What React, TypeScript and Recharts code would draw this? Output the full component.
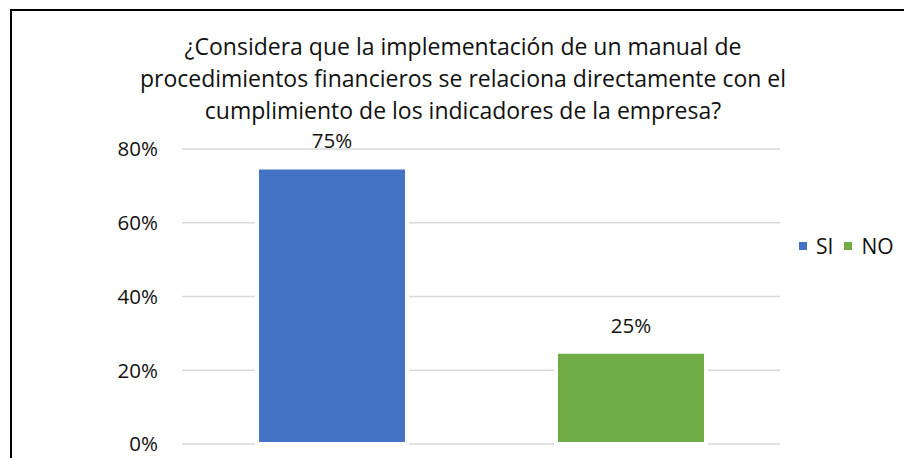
import React from 'react';
import { BarChart, Bar, XAxis, YAxis, CartesianGrid, Cell, LabelList } from 'recharts';

const categories = ['SI', 'NO'];
const values = [0.75, 0.25];
const colors = ['#4472C4', '#70AD47'];
const yTicks = [0, 0.2, 0.4, 0.6, 0.8];
const titleLines = [
  '¿Considera que la implementación de un manual de',
  'procedimientos financieros se relaciona directamente con el',
  'cumplimiento de los indicadores de la empresa?',
];

const data = categories.map((c, i) => ({ name: c, value: values[i] }));
const pct = (v: any) => `${Math.round(Number(v) * 100)}%`;

const FONT = '"Open Sans", Lato, sans-serif';
const TEXT = '#111';

export default function App() {
  return (
    <div style={{ position: 'absolute', left: 0, top: 0, width: 904, height: 458, background: '#fff', overflow: 'hidden' }}>
      <div style={{ position: 'absolute', left: 10, top: 9, width: 900, height: 460, border: '2px solid #000', boxSizing: 'border-box' }} />
      <div style={{ position: 'absolute', left: 0, top: 0 }}>
        <BarChart width={904} height={458} data={data} margin={{ top: 149, right: 124, bottom: 14, left: 0 }}>
          <CartesianGrid horizontal vertical={false} stroke="#D9D9D9" strokeWidth={1.5} />
          <XAxis dataKey="name" hide />
          <YAxis
            width={182}
            domain={[0, 0.8]}
            ticks={yTicks}
            tickFormatter={pct}
            axisLine={false}
            tickLine={false}
            tickSize={0}
            tickMargin={24}
            tick={{ fill: TEXT, fontSize: 20.5, fontFamily: FONT }}
          />
          <Bar dataKey="value" barSize={150} stroke="#fff" strokeWidth={4} isAnimationActive={false}>
            {data.map((d, i) => (
              <Cell key={d.name} fill={colors[i]} stroke="#fff" strokeWidth={4} />
            ))}
            <LabelList dataKey="value" position="top" offset={19} formatter={pct} fill={TEXT} fontSize={20.5} fontFamily={FONT} />
          </Bar>
        </BarChart>
      </div>
      <div
        style={{
          position: 'absolute',
          left: 799,
          top: 233,
          display: 'flex',
          alignItems: 'center',
          fontFamily: FONT,
          fontSize: 21,
          color: TEXT,
          lineHeight: '26px',
        }}
      >
        {categories.map((c, i) => (
          <div key={c} style={{ display: 'flex', alignItems: 'center', marginRight: 11 }}>
            <span style={{ display: 'inline-block', width: 8, height: 8, background: colors[i], marginRight: 9 }} />
            <span>{c}</span>
          </div>
        ))}
      </div>
      <svg width={904} height={458} style={{ position: 'absolute', left: 0, top: 0, pointerEvents: 'none' }}>
        {titleLines.map((t, i) => (
          <text key={i} x={463} y={55 + i * 32} textAnchor="middle" fontFamily={FONT} fontSize={23} fill={TEXT}>
            {t}
          </text>
        ))}
      </svg>
    </div>
  );
}
